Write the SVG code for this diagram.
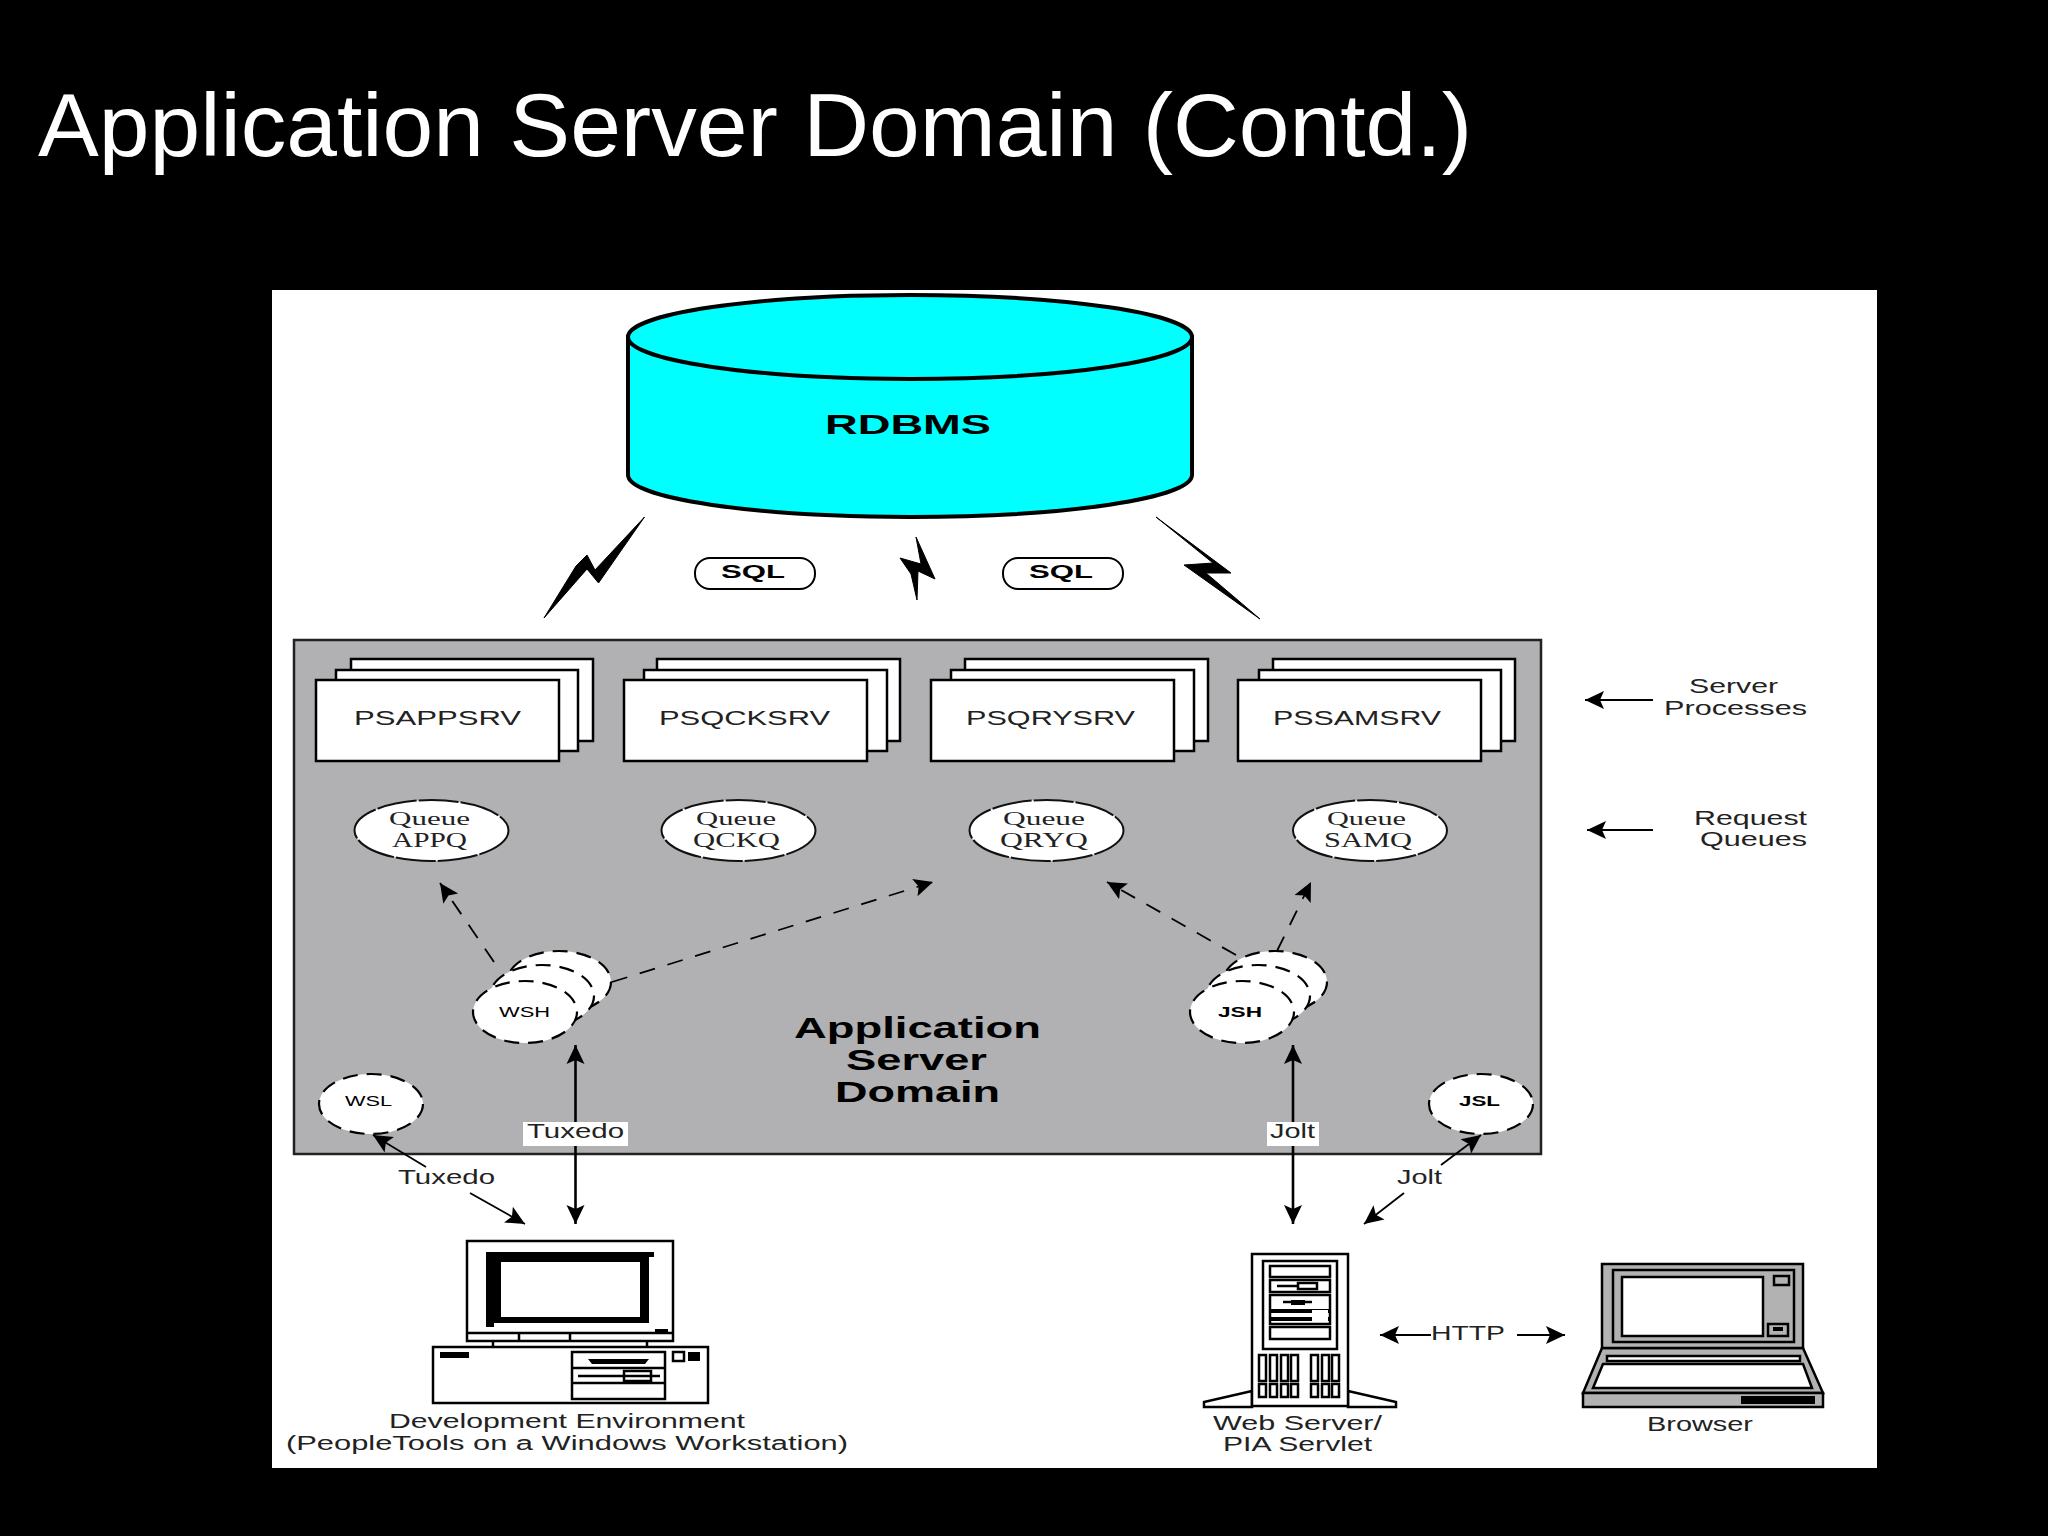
<svg xmlns="http://www.w3.org/2000/svg" width="2048" height="1536" viewBox="0 0 2048 1536">
<style>
text{font-family:"Liberation Sans",Arial,sans-serif;fill:#000}
.ds{font-size:20px;fill:#222}
.b{font-weight:bold}
.q{font-family:"Liberation Serif","Times New Roman",serif;fill:#222}
.box{fill:#fff;stroke:#000;stroke-width:2.5}
.ln{fill:none;stroke:#000;stroke-width:2.5}
.queue{fill:#fff;stroke:#111;stroke-width:2;stroke-dasharray:40 2}
.h{fill:#fff;stroke:#000;stroke-width:2.2;stroke-dasharray:15 9}
.k{fill:#000}
.bolt{fill:#000;stroke:#000;stroke-width:1}
.g{fill:#b2b2b2;stroke:#000;stroke-width:2.5}
.w{fill:#fff;stroke:#000;stroke-width:2.5}
.dash{fill:none;stroke:#000;stroke-width:1.8;stroke-dasharray:16 13;marker-end:url(#ah)}
.solid{fill:none;stroke:#000;stroke-width:2.6;marker-end:url(#ah);marker-start:url(#ah)}
.one{fill:none;stroke:#000;stroke-width:1.8;marker-end:url(#ah)}
</style>
<defs>
<marker id="ah" markerUnits="userSpaceOnUse" markerWidth="22" markerHeight="20" refX="19" refY="10" orient="auto-start-reverse"><path d="M0 1L19 10L0 19L4 10Z" fill="#000"/></marker>
</defs>
<rect width="2048" height="1536" fill="#000"/>
<text id="title" x="38" y="156" font-size="89" textLength="1434" lengthAdjust="spacingAndGlyphs" style="fill:#fff">Application Server Domain (Contd.)</text>
<rect id="panel" x="272" y="290" width="1605" height="1178" fill="#fff"/>

<g id="rdbms">
<path d="M628 337V475A282 42 0 0 0 1192 475V337Z" fill="#0ff" stroke="#000" stroke-width="4"/>
<ellipse cx="910" cy="337" rx="282" ry="42" fill="#0ff" stroke="#000" stroke-width="4"/>
<text x="825" y="434" font-size="28" class="b" textLength="166" lengthAdjust="spacingAndGlyphs">RDBMS</text>
</g>
<g id="bolts">
<path class="bolt" d="M644.5 517L598.5 583L587 569L544 618L576 566L587 555L595 570Z"/>
<path class="bolt" d="M916 537L935 579L918 571L917 600L911 574L900 558L921 564Z"/>
<path class="bolt" d="M1156 517L1231 573L1206 573L1260 619L1184 565L1213 563Z"/>
</g>
<g id="sql1">
<rect x="695" y="558" width="120" height="31" rx="15" fill="#fff" stroke="#000" stroke-width="2"/>
<text x="721" y="578" font-size="19" class="b" textLength="64" lengthAdjust="spacingAndGlyphs">SQL</text>
</g>
<g id="sql2">
<rect x="1003" y="558" width="120" height="31" rx="15" fill="#fff" stroke="#000" stroke-width="2"/>
<text x="1029" y="578" font-size="19" class="b" textLength="64" lengthAdjust="spacingAndGlyphs">SQL</text>
</g>

<rect id="domain" x="294" y="640" width="1247" height="514" fill="#b1b1b3" stroke="#222" stroke-width="2.5"/>

<g id="psappsrv">
<rect class="box" x="351" y="659" width="242" height="82"/><rect class="box" x="336" y="670" width="242" height="81"/><rect class="box" x="316" y="680" width="243" height="81"/>
<text class="ds" x="354" y="725" textLength="167" lengthAdjust="spacingAndGlyphs">PSAPPSRV</text>
</g>
<g id="psqcksrv">
<rect class="box" x="657" y="659" width="243" height="82"/><rect class="box" x="644" y="670" width="243" height="81"/><rect class="box" x="624" y="680" width="243" height="81"/>
<text class="ds" x="659" y="725" textLength="171" lengthAdjust="spacingAndGlyphs">PSQCKSRV</text>
</g>
<g id="psqrysrv">
<rect class="box" x="965" y="659" width="243" height="82"/><rect class="box" x="951" y="670" width="243" height="81"/><rect class="box" x="931" y="680" width="243" height="81"/>
<text class="ds" x="966" y="725" textLength="169" lengthAdjust="spacingAndGlyphs">PSQRYSRV</text>
</g>
<g id="pssamsrv">
<rect class="box" x="1273" y="659" width="242" height="82"/><rect class="box" x="1259" y="670" width="242" height="81"/><rect class="box" x="1238" y="680" width="243" height="81"/>
<text class="ds" x="1273" y="725" textLength="168" lengthAdjust="spacingAndGlyphs">PSSAMSRV</text>
</g>

<g id="appq"><ellipse class="queue" cx="431.5" cy="830.5" rx="77" ry="30.5"/>
<text class="q" x="389" y="825" font-size="18" textLength="81" lengthAdjust="spacingAndGlyphs">Queue</text>
<text class="q" x="392" y="847" font-size="21" textLength="75" lengthAdjust="spacingAndGlyphs">APPQ</text></g>
<g id="qckq"><ellipse class="queue" cx="738.5" cy="830.5" rx="77" ry="30.5"/>
<text class="q" x="696" y="825" font-size="18" textLength="80" lengthAdjust="spacingAndGlyphs">Queue</text>
<text class="q" x="693" y="847" font-size="21" textLength="87" lengthAdjust="spacingAndGlyphs">QCKQ</text></g>
<g id="qryq"><ellipse class="queue" cx="1046.5" cy="830.5" rx="77" ry="30.5"/>
<text class="q" x="1003" y="825" font-size="18" textLength="82" lengthAdjust="spacingAndGlyphs">Queue</text>
<text class="q" x="1000" y="847" font-size="21" textLength="88" lengthAdjust="spacingAndGlyphs">QRYQ</text></g>
<g id="samq"><ellipse class="queue" cx="1370" cy="830.5" rx="77" ry="30.5"/>
<text class="q" x="1327" y="825" font-size="18" textLength="79" lengthAdjust="spacingAndGlyphs">Queue</text>
<text class="q" x="1324" y="847" font-size="21" textLength="88" lengthAdjust="spacingAndGlyphs">SAMQ</text></g>

<g id="connectors">
<path class="dash" d="M494 962L440 883"/>
<path class="dash" d="M612 982L933 882"/>
<path class="dash" d="M1236 955L1107 882"/>
<path class="dash" d="M1277 951L1311 882"/>
<path class="solid" d="M575.5 1224V1045"/>
<path class="solid" d="M1293 1224V1045"/>
<path class="one" d="M426 1167L373 1135"/>
<path class="one" d="M470 1193L525 1224"/>
<path class="one" d="M1441 1165L1481 1135"/>
<path class="one" d="M1404 1193L1364 1224"/>
<path class="one" d="M1653 700H1585"/>
<path class="one" d="M1653 830H1587"/>
<path class="one" d="M1431 1335H1380"/>
<path class="one" d="M1517 1335H1565"/>
</g>

<g id="wsh">
<ellipse class="h" cx="559" cy="982" rx="52" ry="31"/><ellipse class="h" cx="542" cy="996" rx="52" ry="31"/><ellipse class="h" cx="525" cy="1012" rx="52" ry="31"/>
<text x="499" y="1017" font-size="15" textLength="51" lengthAdjust="spacingAndGlyphs">WSH</text>
</g>
<g id="jsh">
<ellipse class="h" cx="1275" cy="982" rx="52" ry="31"/><ellipse class="h" cx="1258" cy="996" rx="52" ry="31"/><ellipse class="h" cx="1242" cy="1012" rx="52" ry="31"/>
<text x="1218" y="1017" font-size="15" class="b" textLength="44" lengthAdjust="spacingAndGlyphs">JSH</text>
</g>
<g id="wsl"><ellipse class="h" cx="371" cy="1104" rx="52" ry="30"/>
<text x="345" y="1106" font-size="14" textLength="47" lengthAdjust="spacingAndGlyphs">WSL</text></g>
<g id="jsl"><ellipse class="h" cx="1481" cy="1104" rx="52" ry="30"/>
<text x="1459" y="1106" font-size="14" class="b" textLength="41" lengthAdjust="spacingAndGlyphs">JSL</text></g>

<g id="domain-label">
<text x="794" y="1038" font-size="30" class="b" textLength="247" lengthAdjust="spacingAndGlyphs">Application</text>
<text x="846" y="1070" font-size="30" class="b" textLength="141" lengthAdjust="spacingAndGlyphs">Server</text>
<text x="835" y="1102" font-size="30" class="b" textLength="165" lengthAdjust="spacingAndGlyphs">Domain</text>
</g>

<g id="labels">
<rect x="523" y="1122" width="105" height="24" fill="#fff"/>
<text class="ds" x="527" y="1138" textLength="97" lengthAdjust="spacingAndGlyphs">Tuxedo</text>
<rect x="1267" y="1122" width="52" height="24" fill="#fff"/>
<text class="ds" x="1270" y="1138" textLength="45" lengthAdjust="spacingAndGlyphs">Jolt</text>
<text class="ds" x="398" y="1184" textLength="97" lengthAdjust="spacingAndGlyphs">Tuxedo</text>
<text class="ds" x="1397" y="1184" textLength="45" lengthAdjust="spacingAndGlyphs">Jolt</text>
<text class="ds" x="1689" y="693" textLength="89" lengthAdjust="spacingAndGlyphs">Server</text>
<text class="ds" x="1664" y="715" textLength="143" lengthAdjust="spacingAndGlyphs">Processes</text>
<text class="ds" x="1694" y="825" textLength="113" lengthAdjust="spacingAndGlyphs">Request</text>
<text class="ds" x="1700" y="846" textLength="107" lengthAdjust="spacingAndGlyphs">Queues</text>
<text class="ds" x="1431" y="1340" textLength="74" lengthAdjust="spacingAndGlyphs">HTTP</text>
</g>

<g id="development-environment">
<rect class="ln" x="467" y="1241" width="206" height="100" fill="#fff"/>
<path class="k" fill-rule="evenodd" d="M486 1252H654V1257H649V1323H494V1327H486ZM501 1262V1317H640V1262Z"/>
<path class="k" d="M655 1329H668V1332H655Z"/>
<path class="ln" d="M467 1333H673M519 1333V1341M570 1333V1341M493 1341V1347M647 1341V1347"/>
<rect class="ln" x="433" y="1347" width="275" height="56"/>
<rect class="k" x="440" y="1352" width="29" height="6"/>
<rect class="ln" x="572" y="1352" width="93" height="47"/>
<path class="ln" d="M572 1368H665M572 1383H665"/>
<path class="k" d="M588 1359H649L645 1364H592Z"/>
<path class="ln" d="M578 1376H660"/>
<rect class="ln" x="624" y="1371" width="27" height="10" fill="#fff"/>
<rect class="ln" x="673" y="1352" width="11" height="9"/>
<rect class="k" x="688" y="1352" width="12" height="9"/>
<text class="ds" x="389" y="1428" textLength="356" lengthAdjust="spacingAndGlyphs">Development Environment</text>
<text class="ds" x="286" y="1450" textLength="562" lengthAdjust="spacingAndGlyphs">(PeopleTools on a Windows Workstation)</text>
</g>

<g id="web-server">
<path class="w" d="M1252 1391L1204 1402V1407H1252ZM1348 1391L1396 1402V1407H1348Z"/>
<rect class="w" x="1252" y="1254" width="96" height="152"/>
<rect class="ln" x="1263" y="1261" width="74" height="88"/>
<rect class="ln" x="1270" y="1266" width="60" height="11"/>
<rect class="ln" x="1270" y="1280" width="60" height="12"/>
<path class="ln" d="M1277 1286H1298"/>
<rect class="ln" x="1298" y="1283" width="19" height="6"/>
<rect class="ln" x="1270" y="1295" width="60" height="29"/>
<path class="ln" d="M1283 1302H1312"/>
<rect class="k" x="1291" y="1300" width="14" height="5"/>
<rect class="k" x="1270" y="1309" width="60" height="4"/>
<rect class="k" x="1270" y="1317" width="60" height="4"/>
<rect x="1312" y="1310" width="16" height="12" fill="#fff"/>
<rect class="ln" x="1270" y="1327" width="60" height="12"/>
<g class="ln">
<rect x="1259" y="1355" width="7" height="26"/><rect x="1270" y="1355" width="7" height="26"/><rect x="1281" y="1355" width="7" height="26"/><rect x="1291" y="1355" width="7" height="26"/><rect x="1311" y="1355" width="7" height="26"/><rect x="1322" y="1355" width="7" height="26"/><rect x="1332" y="1355" width="7" height="26"/>
<rect x="1259" y="1384" width="7" height="13"/><rect x="1270" y="1384" width="7" height="13"/><rect x="1281" y="1384" width="7" height="13"/><rect x="1291" y="1384" width="7" height="13"/><rect x="1311" y="1384" width="7" height="13"/><rect x="1322" y="1384" width="7" height="13"/><rect x="1332" y="1384" width="7" height="13"/>
</g>
<text class="ds" x="1213" y="1430" textLength="169" lengthAdjust="spacingAndGlyphs">Web Server/</text>
<text class="ds" x="1223" y="1451" textLength="149" lengthAdjust="spacingAndGlyphs">PIA Servlet</text>
</g>

<g id="browser">
<path class="g" d="M1602 1348H1803L1823 1393H1583Z"/>
<rect class="g" x="1602" y="1264" width="201" height="84"/>
<rect class="g" x="1613" y="1270" width="181" height="72"/>
<rect class="w" x="1622" y="1277" width="141" height="59"/>
<rect class="g" x="1774" y="1276" width="15" height="9"/>
<rect class="g" x="1768" y="1324" width="20" height="12"/>
<rect class="k" x="1773" y="1327" width="10" height="4"/>
<rect class="w" x="1607" y="1356" width="193" height="5"/>
<path class="w" d="M1603 1364H1803L1812 1388H1593Z"/>
<rect class="g" x="1583" y="1393" width="240" height="14"/>
<rect class="k" x="1741" y="1396" width="74" height="8"/>
<text class="ds" x="1647" y="1431" textLength="106" lengthAdjust="spacingAndGlyphs">Browser</text>
</g>
</svg>
